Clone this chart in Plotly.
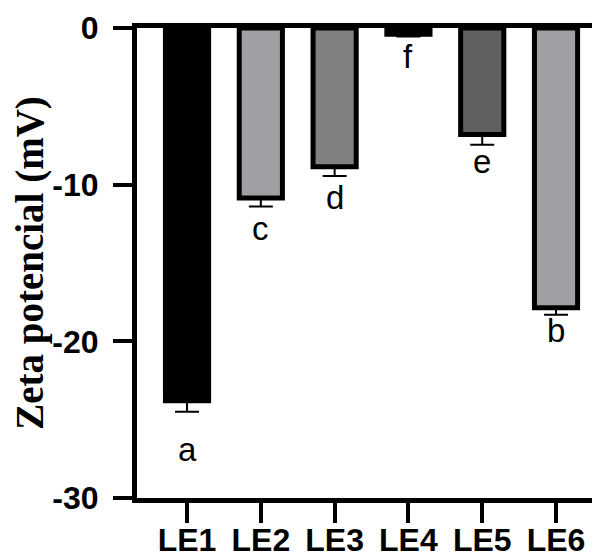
import plotly.graph_objects as go

categories = ["LE1", "LE2", "LE3", "LE4", "LE5", "LE6"]
zeta_mean = [-23.8, -10.85, -8.85, -0.4, -6.8, -17.85]
zeta_err = [0.7, 0.55, 0.6, 0.15, 0.65, 0.45]
letters = ["a", "c", "d", "f", "e", "b"]
letter_y = [-26.9, -12.8, -10.85, -1.85, -8.5, -19.3]
bar_colors = ["#000000", "#a0a0a4", "#808080", "#000000", "#606060", "#a0a0a4"]

fig = go.Figure()
fig.add_trace(go.Bar(
    x=categories,
    y=zeta_mean,
    width=0.585,
    marker=dict(color=bar_colors, line=dict(color="#000000", width=5)),
    error_y=dict(type="data", symmetric=False, array=[0] * len(zeta_err),
                 arrayminus=zeta_err, color="#000000", thickness=2, width=12),
    showlegend=False,
))

for c, t, yy in zip(categories, letters, letter_y):
    fig.add_annotation(x=c, y=yy, text=t, showarrow=False,
                       font=dict(family="Liberation Sans, Arial, sans-serif", size=33, color="#000000"),
                       xanchor="center", yanchor="middle")

# page body has a default 8px margin, so margins compensate for it
fig.update_layout(
    width=600, height=557,
    margin=dict(l=129, r=8, t=20, b=67),
    plot_bgcolor="white", paper_bgcolor="white",
    bargap=0.4,
    xaxis=dict(
        range=[-0.678, 5.596], automargin=False,
        showline=True, linecolor="#000000", linewidth=5, mirror=True,
        ticks="outside", ticklen=20, tickwidth=4, tickcolor="#000000",
        ticklabelstandoff=-10,
        tickfont=dict(family="Liberation Sans, Arial, sans-serif", size=32, color="#000000", weight="bold"),
        showgrid=False, zeroline=False,
    ),
    yaxis=dict(
        range=[-30, 0], automargin=False,
        tickvals=[0, -10, -20, -30],
        ticktext=["0", "-10", "-20", "-30"],
        showline=True, linecolor="#000000", linewidth=5,
        ticks="outside", ticklen=19, tickwidth=4, tickcolor="#000000",
        ticklabelstandoff=8,
        tickfont=dict(family="Liberation Sans, Arial, sans-serif", size=32, color="#000000", weight="bold"),
        showgrid=False, zeroline=False,
        title=dict(text="Zeta potencial (mV)", standoff=5,
                   font=dict(family="Liberation Serif, Times New Roman, serif", size=39,
                             color="#000000", weight="bold")),
    ),
)

fig.write_html("out.html")
